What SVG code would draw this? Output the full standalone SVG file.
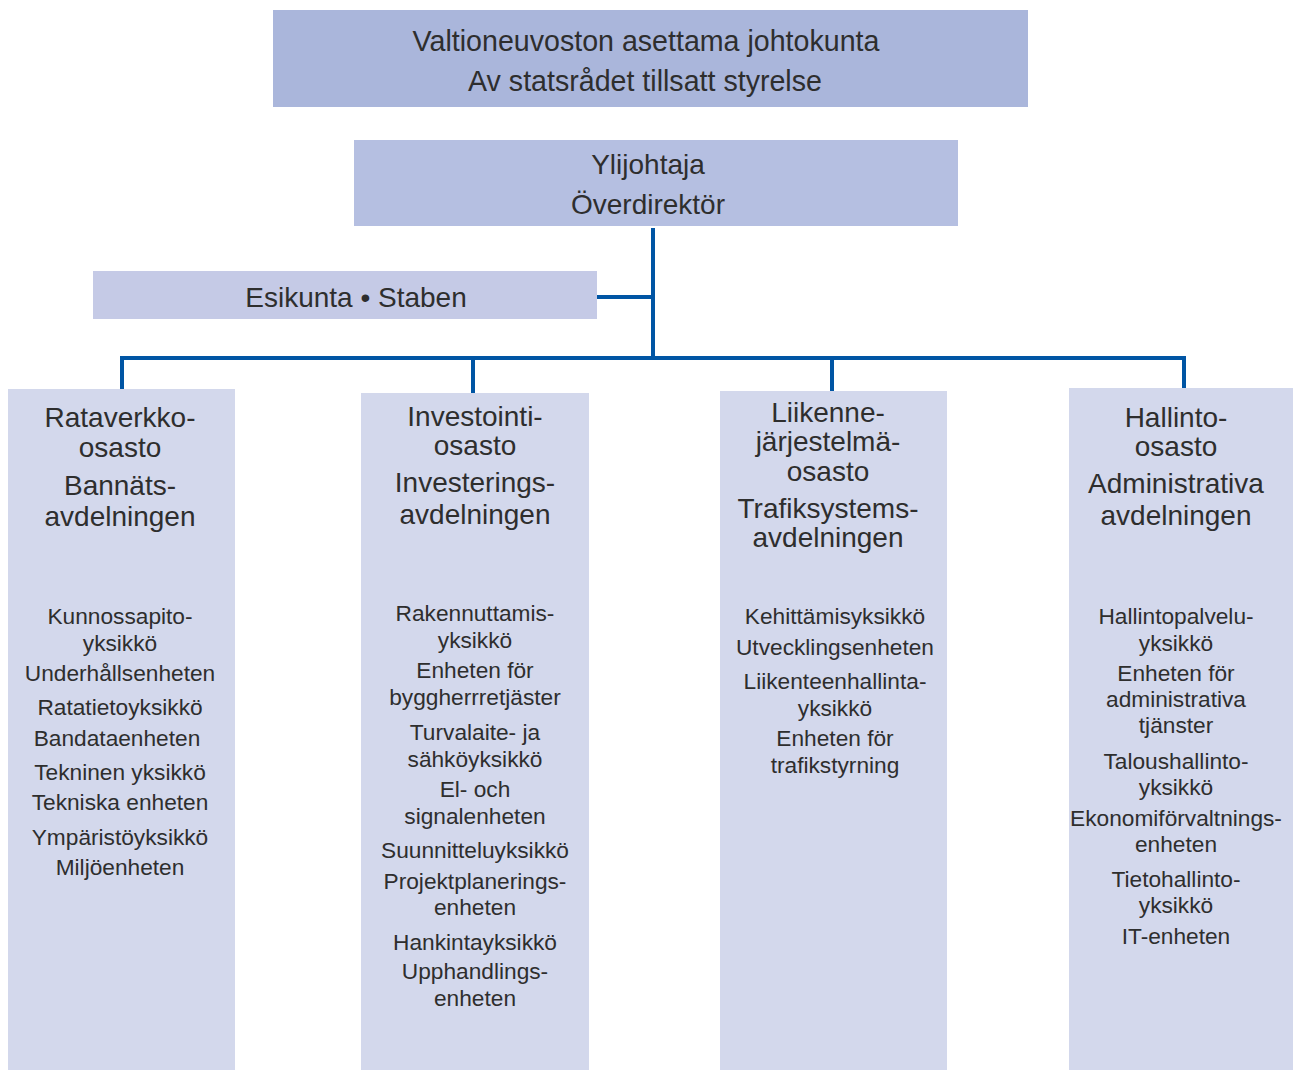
<svg xmlns="http://www.w3.org/2000/svg" width="1293" height="1070" viewBox="0 0 1293 1070">
<style>
text{font-family:"Liberation Sans",Arial,sans-serif;fill:#2e2e2e;text-anchor:middle}
.big{font-size:28px}
.top{font-size:28.6px}
.sm{font-size:22.7px}
.ln{stroke:#0055a4;stroke-width:4;fill:none}
</style>
<rect width="1293" height="1070" fill="#ffffff"/>
<g id="connectors">
<path class="ln" d="M653 228V360"/>
<path class="ln" d="M597 297H653"/>
<path class="ln" d="M122 389V358H1184V388"/>
<path class="ln" d="M473 358V393"/>
<path class="ln" d="M832 358V391"/>
</g>
<g id="board">
<rect x="273" y="10" width="755" height="97" fill="#aab6db"/>
<text class="top" x="646" y="51">Valtioneuvoston asettama johtokunta</text>
<text class="top" x="645" y="91">Av statsrådet tillsatt styrelse</text>
</g>
<g id="director">
<rect x="354" y="140" width="604" height="86" fill="#b5bfe1"/>
<text class="big" x="648" y="174">Ylijohtaja</text>
<text class="big" x="648" y="214">Överdirektör</text>
</g>
<g id="staff">
<rect x="93" y="271" width="504" height="48" fill="#c5cae6"/>
<text class="big" x="356" y="307">Esikunta • Staben</text>
</g>
<g id="dept1">
<rect x="8" y="389" width="227" height="681" fill="#d3d8ec"/>
<text class="big" x="120" y="427">Rataverkko-</text>
<text class="big" x="120" y="457">osasto</text>
<text class="big" x="120" y="495">Bannäts-</text>
<text class="big" x="120" y="526">avdelningen</text>
<text class="sm" x="120" y="624">Kunnossapito-</text>
<text class="sm" x="120" y="651">yksikkö</text>
<text class="sm" x="120" y="681">Underhållsenheten</text>
<text class="sm" x="120" y="715">Ratatietoyksikkö</text>
<text class="sm" x="117" y="746">Bandataenheten</text>
<text class="sm" x="120" y="780">Tekninen yksikkö</text>
<text class="sm" x="120" y="810">Tekniska enheten</text>
<text class="sm" x="120" y="845">Ympäristöyksikkö</text>
<text class="sm" x="120" y="875">Miljöenheten</text>
</g>
<g id="dept2">
<rect x="361" y="393" width="228" height="677" fill="#d3d8ec"/>
<text class="big" x="475" y="426">Investointi-</text>
<text class="big" x="475" y="455">osasto</text>
<text class="big" x="475" y="492">Investerings-</text>
<text class="big" x="475" y="524">avdelningen</text>
<text class="sm" x="475" y="621">Rakennuttamis-</text>
<text class="sm" x="475" y="648">yksikkö</text>
<text class="sm" x="475" y="678">Enheten för</text>
<text class="sm" x="475" y="705">byggherrretjäster</text>
<text class="sm" x="475" y="740">Turvalaite- ja</text>
<text class="sm" x="475" y="767">sähköyksikkö</text>
<text class="sm" x="475" y="797">El- och</text>
<text class="sm" x="475" y="824">signalenheten</text>
<text class="sm" x="475" y="858">Suunnitteluyksikkö</text>
<text class="sm" x="475" y="889">Projektplanerings-</text>
<text class="sm" x="475" y="915">enheten</text>
<text class="sm" x="475" y="950">Hankintayksikkö</text>
<text class="sm" x="475" y="979">Upphandlings-</text>
<text class="sm" x="475" y="1006">enheten</text>
</g>
<g id="dept3">
<rect x="720" y="391" width="227" height="679" fill="#d3d8ec"/>
<text class="big" x="828" y="422">Liikenne-</text>
<text class="big" x="828" y="451">järjestelmä-</text>
<text class="big" x="828" y="481">osasto</text>
<text class="big" x="828" y="518">Trafiksystems-</text>
<text class="big" x="828" y="547">avdelningen</text>
<text class="sm" x="835" y="624">Kehittämisyksikkö</text>
<text class="sm" x="835" y="655">Utvecklingsenheten</text>
<text class="sm" x="835" y="689">Liikenteenhallinta-</text>
<text class="sm" x="835" y="716">yksikkö</text>
<text class="sm" x="835" y="746">Enheten för</text>
<text class="sm" x="835" y="773">trafikstyrning</text>
</g>
<g id="dept4">
<rect x="1069" y="388" width="224" height="682" fill="#d3d8ec"/>
<text class="big" x="1176" y="427">Hallinto-</text>
<text class="big" x="1176" y="456">osasto</text>
<text class="big" x="1176" y="493">Administrativa</text>
<text class="big" x="1176" y="525">avdelningen</text>
<text class="sm" x="1176" y="624">Hallintopalvelu-</text>
<text class="sm" x="1176" y="651">yksikkö</text>
<text class="sm" x="1176" y="681">Enheten för</text>
<text class="sm" x="1176" y="707">administrativa</text>
<text class="sm" x="1176" y="733">tjänster</text>
<text class="sm" x="1176" y="769">Taloushallinto-</text>
<text class="sm" x="1176" y="795">yksikkö</text>
<text class="sm" x="1176" y="826">Ekonomiförvaltnings-</text>
<text class="sm" x="1176" y="852">enheten</text>
<text class="sm" x="1176" y="887">Tietohallinto-</text>
<text class="sm" x="1176" y="913">yksikkö</text>
<text class="sm" x="1176" y="944">IT-enheten</text>
</g>
</svg>
